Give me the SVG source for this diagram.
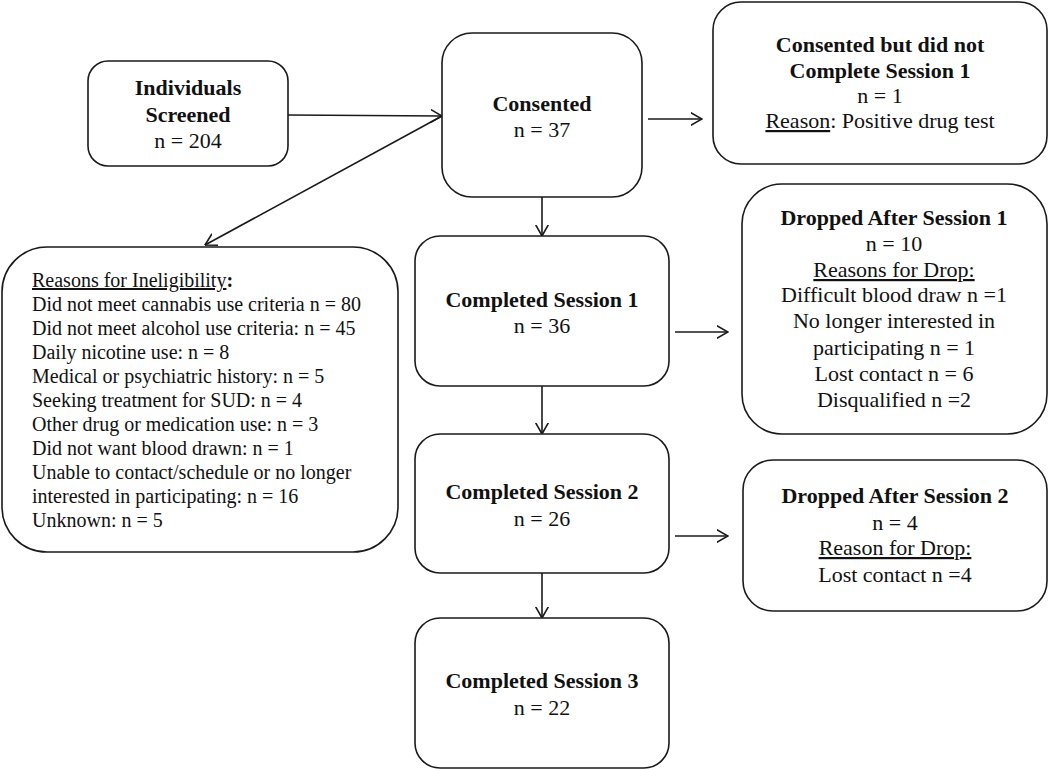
<svg xmlns="http://www.w3.org/2000/svg" width="1050" height="769" viewBox="0 0 1050 769">
<style>
.box{fill:#fff;stroke:#1a1a1a;stroke-width:1.6}
.t{font-family:"Liberation Serif","Times New Roman",serif;font-size:22px;fill:#111;text-anchor:middle}
.b{font-weight:bold}
.l{font-family:"Liberation Serif","Times New Roman",serif;font-size:20px;fill:#111}
.u{text-decoration:underline}
.c{stroke:#1a1a1a;stroke-width:1.6;fill:none;marker-end:url(#ah)}
</style>
<defs>
<marker id="ah" viewBox="0 0 12 14" refX="11.5" refY="7" markerWidth="12" markerHeight="14" markerUnits="userSpaceOnUse" orient="auto">
<path d="M0,0.5 L11.5,7 L0,13.5" fill="none" stroke="#1a1a1a" stroke-width="1.6"/>
</marker>
</defs>
<rect width="1050" height="769" fill="#fff"/>
<g id="connectors">
<line class="c" x1="288" y1="115" x2="442" y2="116"/>
<line class="c" x1="442" y1="116" x2="205" y2="245"/>
<line class="c" x1="542" y1="197" x2="542" y2="236"/>
<line class="c" x1="648" y1="119" x2="702" y2="119"/>
<line class="c" x1="675" y1="332" x2="728" y2="332"/>
<line class="c" x1="542" y1="386" x2="542" y2="434"/>
<line class="c" x1="675" y1="536" x2="728" y2="536"/>
<line class="c" x1="542" y1="573" x2="542" y2="618"/>
</g>
<g id="screened">
<rect class="box" x="88" y="61" width="200" height="105" rx="20"/>
<text class="t b" x="188" y="95">Individuals</text>
<text class="t b" x="188" y="122">Screened</text>
<text class="t" x="188" y="148">n = 204</text>
</g>
<g id="consented">
<rect class="box" x="442" y="33" width="200" height="164" rx="30"/>
<text class="t b" x="542" y="111">Consented</text>
<text class="t" x="542" y="137">n = 37</text>
</g>
<g id="consented-not-s1">
<rect class="box" x="713" y="2" width="334" height="162" rx="28"/>
<text class="t b" x="880" y="52">Consented but did not</text>
<text class="t b" x="880" y="78">Complete Session 1</text>
<text class="t" x="880" y="103">n = 1</text>
<text class="t" x="880" y="128"><tspan class="u">Reason</tspan>: Positive drug test</text>
</g>
<g id="ineligibility">
<rect class="box" x="2" y="247" width="396" height="305" rx="45"/>
<text class="l" x="32" y="287"><tspan class="u">Reasons for Ineligibility</tspan><tspan class="b">:</tspan></text>
<text class="l" x="32" y="311">Did not meet cannabis use criteria n = 80</text>
<text class="l" x="32" y="335">Did not meet alcohol use criteria: n = 45</text>
<text class="l" x="32" y="359">Daily nicotine use: n = 8</text>
<text class="l" x="32" y="383">Medical or psychiatric history: n = 5</text>
<text class="l" x="32" y="407">Seeking treatment for SUD: n = 4</text>
<text class="l" x="32" y="431">Other drug or medication use: n = 3</text>
<text class="l" x="32" y="455">Did not want blood drawn: n = 1</text>
<text class="l" x="32" y="479">Unable to contact/schedule or no longer</text>
<text class="l" x="32" y="503">interested in participating: n = 16</text>
<text class="l" x="32" y="527">Unknown: n = 5</text>
</g>
<g id="session1">
<rect class="box" x="415" y="236" width="254" height="150" rx="25"/>
<text class="t b" x="542" y="307">Completed Session 1</text>
<text class="t" x="542" y="333">n = 36</text>
</g>
<g id="dropped1">
<rect class="box" x="742" y="184" width="305" height="250" rx="40"/>
<text class="t b" x="894" y="225">Dropped After Session 1</text>
<text class="t" x="894" y="251">n = 10</text>
<text class="t u" x="894" y="277">Reasons for Drop:</text>
<text class="t" x="894" y="302">Difficult blood draw n =1</text>
<text class="t" x="894" y="328">No longer interested in</text>
<text class="t" x="894" y="355">participating n = 1</text>
<text class="t" x="894" y="381">Lost contact n = 6</text>
<text class="t" x="894" y="407">Disqualified n =2</text>
</g>
<g id="session2">
<rect class="box" x="415" y="434" width="254" height="139" rx="25"/>
<text class="t b" x="542" y="499">Completed Session 2</text>
<text class="t" x="542" y="526">n = 26</text>
</g>
<g id="dropped2">
<rect class="box" x="743" y="460" width="304" height="151" rx="30"/>
<text class="t b" x="895" y="503">Dropped After Session 2</text>
<text class="t" x="895" y="530">n = 4</text>
<text class="t u" x="895" y="555">Reason for Drop:</text>
<text class="t" x="895" y="582">Lost contact n =4</text>
</g>
<g id="session3">
<rect class="box" x="415" y="618" width="254" height="150" rx="25"/>
<text class="t b" x="542" y="688">Completed Session 3</text>
<text class="t" x="542" y="715">n = 22</text>
</g>
</svg>
